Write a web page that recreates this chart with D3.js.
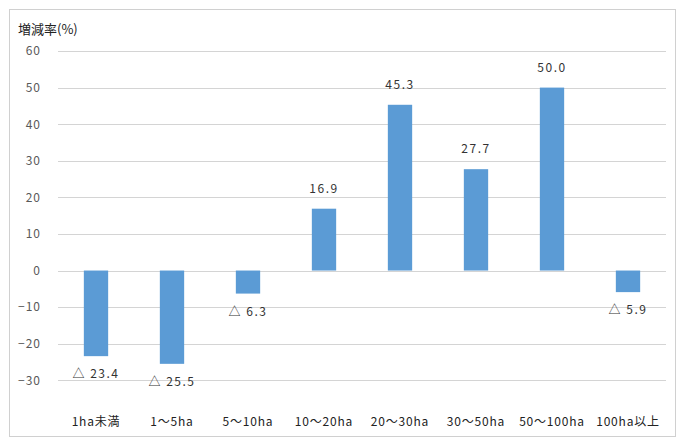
<!DOCTYPE html>
<html><head><meta charset="utf-8">
<script src="https://cdn.jsdelivr.net/npm/d3@7"></script>
<style>body{margin:0;background:#fff}text{font-family:"Noto Sans CJK JP","DejaVu Sans",sans-serif}</style>
</head><body><svg id="c" width="684" height="443"></svg>
<script>
const categories = ["1ha未満","1～5ha","5～10ha","10～20ha","20～30ha","30～50ha","50～100ha","100ha以上"];
const values = [-23.4,-25.5,-6.3,16.9,45.3,27.7,50.0,-5.9];
const yTicks = [-30,-20,-10,0,10,20,30,40,50,60];
const yTitle = "増減率(%)";

const svg = d3.select("#c");
svg.append("rect").attr("x",9.5).attr("y",9.5).attr("width",666).attr("height",427)
  .attr("fill","#fff").attr("stroke","#d0d0d0");
const x = d3.scaleBand().domain(categories).range([58,666]).paddingInner(0.68).paddingOuter(0.34);
const y = d3.scaleLinear().domain([-30,60]).range([380.3,51]);

// gridlines
svg.append("g").selectAll("line").data(yTicks).join("line")
  .attr("x1",58).attr("x2",666).attr("y1",d=>Math.round(y(d))+0.5).attr("y2",d=>Math.round(y(d))+0.5)
  .attr("stroke","#d4d4d4").attr("stroke-width",1);

// y axis labels
const ya = svg.append("g").attr("transform","translate(41,0)")
  .call(d3.axisLeft(y).tickValues(yTicks).tickSize(0).tickPadding(0).tickFormat(d3.format("d")));
ya.select(".domain").remove();
ya.selectAll("text").attr("font-size",12).attr("fill","#595959").attr("letter-spacing","1px").style("font-family","'Noto Sans CJK JP'");

// bars
svg.append("g").selectAll("rect").data(values).join("rect")
  .attr("x",(d,i)=>x(categories[i])).attr("width",x.bandwidth())
  .attr("y",d=>y(Math.max(0,d))).attr("height",d=>Math.abs(y(d)-y(0)))
  .attr("fill","#5b9bd5");

// data labels
svg.append("g").selectAll("text").data(values).join("text")
  .attr("x",(d,i)=>x(categories[i])+x.bandwidth()/2)
  .attr("y",d=>d>=0 ? y(d)-20 : y(d)+18)
  .attr("dy","0.35em").attr("text-anchor","middle")
  .attr("font-size",12).attr("fill","#333").attr("letter-spacing","1.5px")
  .text(d=>d>=0 ? d.toFixed(1) : "△ "+Math.abs(d).toFixed(1));

// x labels
const xa = svg.append("g").attr("transform","translate(0,422)")
  .call(d3.axisBottom(x).tickSize(0).tickPadding(0));
xa.select(".domain").remove();
xa.selectAll("text").attr("font-size",12).attr("fill","#222").attr("dy","0.35em").attr("letter-spacing","0.8px").style("font-family","'Noto Sans CJK JP'");

svg.append("text").attr("x",18).attr("y",34).attr("font-size",13).attr("fill","#222").text(yTitle);
</script></body></html>
